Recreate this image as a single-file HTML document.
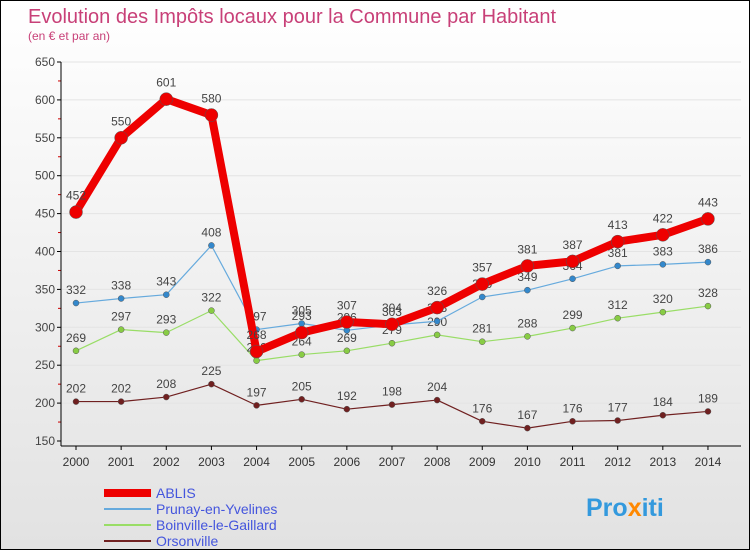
<!DOCTYPE html>
<html><head><meta charset="utf-8"><style>
body{margin:0}
#c{position:relative;width:748px;height:548px;border:1px solid #000;background:linear-gradient(#fff,#e2e2e2);overflow:hidden;font-family:"Liberation Sans",sans-serif}
svg{position:absolute;left:0;top:0}
</style></head><body>
<div id="c">
<svg id="s" width="750" height="550" font-family="Liberation Sans, sans-serif">
<text x="27" y="22" font-size="20" fill="#c84078">Evolution des Impôts locaux pour la Commune par Habitant</text>
<text x="27" y="39" font-size="12" fill="#c84078">(en € et par an)</text>
<text x="585" y="515" font-size="25" font-weight="bold" fill="#3399dd">Pro<tspan fill="#ff8800">x</tspan>iti</text>
</svg>
</div>
<script>
const years=["2000","2001","2002","2003","2004","2005","2006","2007","2008","2009","2010","2011","2012","2013","2014"];
const yTicks=[150,200,250,300,350,400,450,500,550,600,650];
const ablis=[452,550,601,580,268,293,307,304,326,357,381,387,413,422,443];
const prunay=[332,338,343,408,297,305,296,303,308,340,349,364,381,383,386];
const boinville=[269,297,293,322,256,264,269,279,290,281,288,299,312,320,328];
const orsonville=[202,202,208,225,197,205,192,198,204,176,167,176,177,184,189];
const svg=document.getElementById('s');const NS='http://www.w3.org/2000/svg';
function X(i){return 75+i*45.14;}
function Y(v){return 440-(v-150)*379/500;}
function mk(t,a,p){const e=document.createElementNS(NS,t);for(const k in a)e.setAttribute(k,a[k]);(p||svg).appendChild(e);return e;}
const gg=mk('g',{});


yTicks.forEach(v=>{
 const l=mk('line',{x1:60,x2:740,y1:Y(v),y2:Y(v),stroke:'#e4e4e4'},gg);
 
 
 mk('line',{x1:56,x2:60,y1:Y(v),y2:Y(v),stroke:'#000'},gg);
 if(v<650)mk('line',{x1:57,x2:60,y1:Y(v+25),y2:Y(v+25),stroke:'#c00'},gg);
 const t=mk('text',{x:54,y:Y(v)+4,'text-anchor':'end','font-size':12,fill:'#444'},gg);t.textContent=v;
 
 
});
mk('line',{x1:60,x2:60,y1:Y(650),y2:445,stroke:'#000'});
const xa=mk('g',{});


mk('line',{x1:60,x2:740,y1:445,y2:445,stroke:'#000'},xa);
years.forEach((y,i)=>{mk('line',{x1:X(i),x2:X(i),y1:445,y2:449,stroke:'#000'},xa);
 const t=mk('text',{x:X(i),y:465,'text-anchor':'middle','font-size':12,fill:'#333'},xa);t.textContent=y;
 
 });
function series(d,name,col,w,r,dot){
 const g=mk('g',{});
 
 
 mk('polyline',{points:d.map((v,i)=>X(i)+','+Y(v)).join(' '),fill:'none',stroke:col,'stroke-width':w,'stroke-linejoin':'round'},g);
 d.forEach((v,i)=>{const c=mk('circle',{cx:X(i),cy:Y(v),r:r,fill:dot,stroke:'#555','stroke-width':0.5},g);
  
  
  const t=mk('text',{x:X(i),y:Y(v)-r-6,'text-anchor':'middle','font-size':12,fill:'#444'},g);t.textContent=v;
  
  });
}
series(orsonville,'orsonville','#702020',1.2,3,'#702020');
series(boinville,'boinville','#99dd66',1.2,3,'#88cc44');
series(prunay,'prunay','#66aadd',1.2,3,'#3388cc');
series(ablis,'ablis','#ee0000',8,6.5,'#ee0000');
const leg=[['ABLIS','#ee0000',8],['Prunay-en-Yvelines','#66aadd',2],['Boinville-le-Gaillard','#99dd66',2],['Orsonville','#702020',2]];
leg.forEach((l,i)=>{const g=mk('g',{});
 
 
 const y=492+i*16;
 mk('line',{x1:103,x2:150,y1:y,y2:y,stroke:l[1],'stroke-width':l[2]},g);
 const t=mk('text',{x:155,y:y+5,'font-size':14,fill:'#4455dd'},g);t.textContent=l[0];});
</script>
</body></html>
